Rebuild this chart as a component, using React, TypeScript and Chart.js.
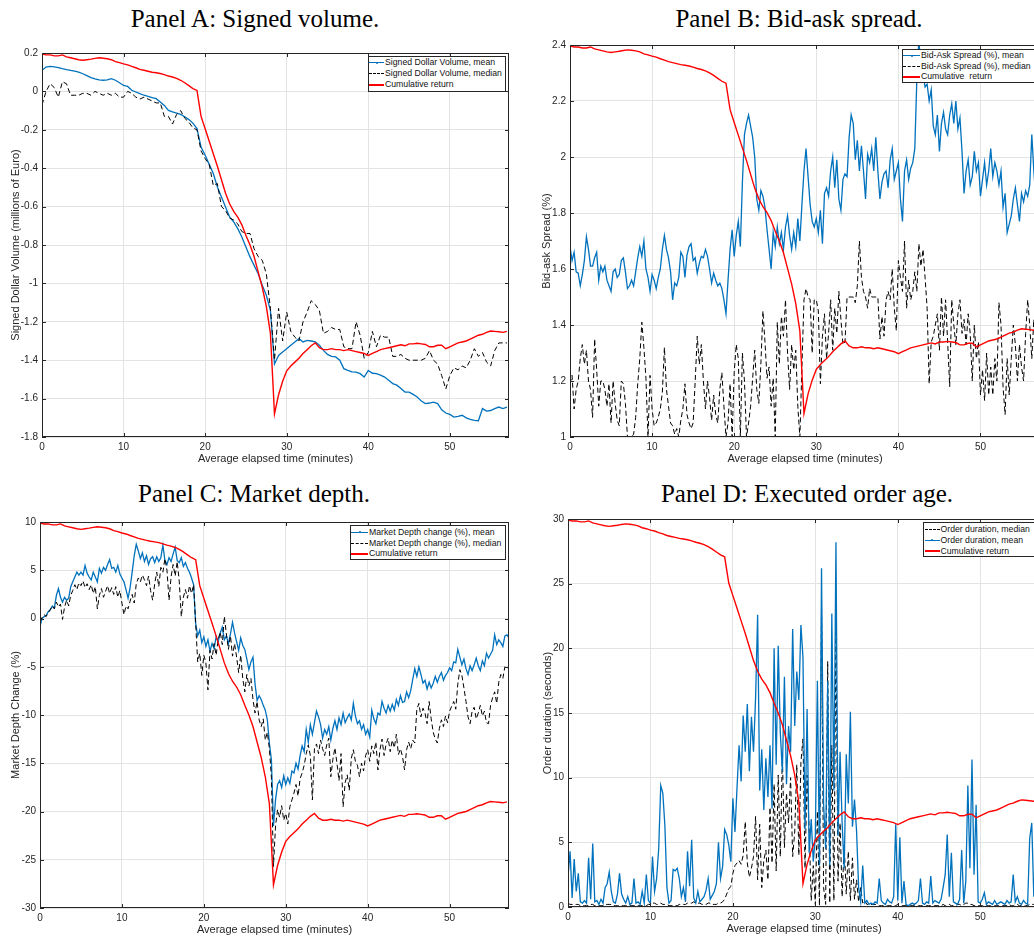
import React, { useEffect, useRef } from "react";
import { Chart, registerables } from "chart.js";

Chart.register(...registerables);

const FONT = '"Liberation Sans", Arial, Helvetica, sans-serif';
const BLUE = "#0072BD";
const RED = "#FF0000";
const BLACK = "#000000";
const AXIS = "#262626";
const GRID = "#e3e3e3";

const COARSE_STEP = 0.5;
const FINE_STEP = 0.25;
const X_MAX = 57.25;
const X_TICK_STEP = 10;
const X_LABEL = "Average elapsed time (minutes)";

// Cumulative return (shared shape, expressed on Panel A's scale -1.8..0.2), 0.5-min steps
const cumulativeReturn = [
  0.195, 0.19, 0.19, 0.185, 0.185, 0.19, 0.18, 0.175, 0.17, 0.165,
  0.162, 0.165, 0.168, 0.172, 0.175, 0.173, 0.17, 0.165, 0.155, 0.15,
  0.143, 0.138, 0.13, 0.123, 0.115, 0.11, 0.105, 0.1, 0.097, 0.093,
  0.087, 0.08, 0.075, 0.068, 0.058, 0.045, 0.03, 0.015, 0.005, -0.13,
  -0.195, -0.26, -0.325, -0.39, -0.46, -0.53, -0.585, -0.625, -0.655, -0.695,
  -0.75, -0.8, -0.86, -0.94, -1.02, -1.12, -1.26, -1.68, -1.58, -1.51,
  -1.455, -1.43, -1.41, -1.39, -1.365, -1.345, -1.325, -1.31, -1.335, -1.345,
  -1.345, -1.34, -1.345, -1.345, -1.35, -1.345, -1.35, -1.355, -1.36, -1.365,
  -1.375, -1.365, -1.355, -1.345, -1.34, -1.335, -1.33, -1.325, -1.32, -1.325,
  -1.315, -1.315, -1.312, -1.315, -1.318, -1.33, -1.33, -1.322, -1.322, -1.34,
  -1.33, -1.32, -1.31, -1.305, -1.3, -1.29, -1.28, -1.27, -1.265, -1.255,
  -1.248, -1.25, -1.252, -1.255, -1.25,
];

// Panel A, 0.5-min steps
const signedVolumeMean = [
  0.11, 0.127, 0.13, 0.128, 0.124, 0.118, 0.113, 0.11, 0.106, 0.1,
  0.092, 0.082, 0.072, 0.065, 0.06, 0.058, 0.06, 0.066, 0.058, 0.045,
  0.031, 0.026, 0.006, -0.003, -0.012, -0.02, -0.026, -0.032, -0.038, -0.055,
  -0.073, -0.099, -0.107, -0.113, -0.12, -0.132, -0.147, -0.165, -0.194, -0.29,
  -0.333, -0.38, -0.428, -0.498, -0.55, -0.602, -0.654, -0.68, -0.715, -0.758,
  -0.81, -0.862, -0.906, -0.95, -1.01, -1.062, -1.14, -1.42, -1.375, -1.357,
  -1.34, -1.322, -1.305, -1.288, -1.305, -1.297, -1.3, -1.305, -1.322, -1.349,
  -1.37, -1.38, -1.383, -1.4, -1.444, -1.453, -1.461, -1.462, -1.47, -1.488,
  -1.453, -1.468, -1.47, -1.478, -1.488, -1.505, -1.522, -1.53, -1.548, -1.566,
  -1.566, -1.578, -1.592, -1.613, -1.626, -1.623, -1.618, -1.626, -1.658, -1.675,
  -1.682, -1.696, -1.692, -1.687, -1.7, -1.708, -1.713, -1.715, -1.652, -1.665,
  -1.662, -1.652, -1.644, -1.652, -1.645,
];
const signedVolumeMedian = [
  -0.07, 0.0, 0.04, 0.02, -0.03, 0.05, 0.04, -0.02, -0.02, -0.02,
  -0.01, -0.01, -0.02, 0.0, -0.01, -0.02, -0.01, -0.02, -0.01, -0.03,
  -0.03, 0.0, -0.01, -0.03, -0.04, -0.03, -0.04, -0.05, -0.06, -0.06,
  -0.13, -0.13, -0.17, -0.12, -0.1, -0.14, -0.16, -0.19, -0.2, -0.31,
  -0.35, -0.38, -0.49, -0.48, -0.6, -0.62, -0.66, -0.67, -0.69, -0.73,
  -0.74, -0.74, -0.82, -0.86, -0.88, -0.95, -1.13, -1.4, -1.13, -1.3,
  -1.15, -1.25, -1.28, -1.3, -1.2, -1.15, -1.09, -1.11, -1.14, -1.26,
  -1.25, -1.23, -1.24, -1.24, -1.33, -1.34, -1.34, -1.2, -1.27, -1.39,
  -1.36, -1.25, -1.33, -1.27, -1.28, -1.28, -1.38, -1.38, -1.37, -1.39,
  -1.4, -1.4, -1.4, -1.4, -1.39, -1.35, -1.4, -1.42, -1.48, -1.55,
  -1.48, -1.44, -1.45, -1.43, -1.44, -1.4, -1.34, -1.38, -1.36, -1.41,
  -1.43, -1.35, -1.31, -1.31, -1.31,
];

// Panel B, 0.25-min steps
const spreadMean = [
  1.68, 1.63, 1.66, 1.59, 1.585, 1.54, 1.58, 1.63, 1.715, 1.67, 1.61, 1.61,
  1.64, 1.66, 1.56, 1.61, 1.59, 1.61, 1.56, 1.54, 1.52, 1.59, 1.6, 1.57,
  1.58, 1.63, 1.64, 1.59, 1.53, 1.54, 1.56, 1.54, 1.59, 1.64, 1.68, 1.645,
  1.7, 1.6, 1.57, 1.52, 1.58, 1.56, 1.53, 1.57, 1.6, 1.67, 1.72, 1.67,
  1.64, 1.59, 1.49, 1.55, 1.54, 1.57, 1.66, 1.645, 1.57, 1.65, 1.68, 1.69,
  1.63, 1.64, 1.585, 1.62, 1.645, 1.64, 1.67, 1.645, 1.6, 1.55, 1.585, 1.56,
  1.54, 1.55, 1.53, 1.49, 1.44, 1.56, 1.67, 1.74, 1.645, 1.72, 1.77, 1.68,
  1.91, 2.08, 2.12, 2.15, 2.11, 2.07, 2.0, 1.85, 1.81, 1.88, 1.86, 1.82,
  1.74, 1.67, 1.6, 1.73, 1.68, 1.75, 1.69, 1.73, 1.67, 1.75, 1.79, 1.72,
  1.67, 1.73, 1.68, 1.78, 1.7, 1.83, 1.95, 2.03, 1.93, 1.83, 1.77, 1.75,
  1.78, 1.73, 1.81, 1.69, 1.87, 1.89, 1.86, 1.95, 2.0, 1.89, 1.99, 1.85,
  1.81, 1.92, 1.94, 1.93, 2.07, 2.15, 2.12, 1.99, 2.06, 1.95, 2.04, 1.95,
  1.85, 2.01, 1.98, 2.03, 1.95, 2.07, 1.95, 1.85, 1.91, 1.94, 1.95, 1.89,
  1.99, 2.03, 1.92, 1.95, 1.98, 1.85, 1.77, 1.95, 1.99, 1.92, 1.96, 1.98,
  2.03, 2.28, 2.42, 2.3, 2.3, 2.25, 2.26, 2.2, 2.24, 2.11, 2.08, 2.15,
  2.02, 2.12, 2.16, 2.1, 2.08, 2.15, 2.19, 2.12, 2.2, 2.1, 2.14, 2.02,
  1.87, 1.95, 1.99, 1.9, 1.93, 2.02, 1.95, 1.98, 1.86, 1.92, 1.98, 1.9,
  1.95, 2.03, 1.93, 1.98, 1.95, 1.9, 1.95, 1.82, 1.87, 1.73, 1.76, 1.79,
  1.85, 1.89, 1.83, 1.77, 1.87, 1.84, 1.88, 1.86, 1.9, 2.08, 1.95, 1.85,
  1.9, 1.82,
];
const spreadMedian = [
  1.19, 1.22, 1.1, 1.17, 1.2, 1.28, 1.33, 1.26, 1.31, 1.2, 1.17, 1.07,
  1.35, 1.24, 1.11, 1.2, 1.2, 1.17, 1.11, 1.19, 1.05, 1.2, 1.12, 1.06,
  1.04, 1.2, 1.19, 1.12, 1.0, 1.0, 1.0, 1.01, 1.07, 1.19, 1.28, 1.41,
  1.32, 1.21, 1.0, 1.22, 1.1, 1.04, 1.05, 1.07, 1.1, 1.16, 1.32, 1.17,
  1.11, 1.05, 1.04, 1.01, 1.03, 1.0, 1.06, 1.1, 1.19, 1.08, 1.05, 1.03,
  1.05, 1.2, 1.36, 1.26, 1.33, 1.2, 1.1, 1.2, 1.14, 1.06, 1.15, 1.08,
  1.05, 1.17, 1.23, 1.11, 1.0, 1.05, 1.19, 1.0, 1.23, 1.33, 1.28, 1.0,
  1.3, 1.2, 1.0, 1.05, 1.11, 1.21, 1.31, 1.17, 1.12, 1.26, 1.45, 1.34,
  1.21, 1.25, 1.11, 1.21, 1.0, 1.41, 1.26, 1.43, 1.36, 1.49, 1.3, 1.17,
  1.33, 1.24, 1.31, 1.11, 1.0, 1.25, 1.49, 1.53, 1.5, 1.49, 1.3, 1.49,
  1.49, 1.45, 1.19, 1.36, 1.44, 1.28, 1.37, 1.49, 1.31, 1.46, 1.37, 1.52,
  1.42, 1.33, 1.34, 1.5, 1.5, 1.5, 1.5, 1.48, 1.54, 1.7, 1.57, 1.52,
  1.5, 1.46, 1.53, 1.5, 1.5, 1.5, 1.5, 1.35, 1.43, 1.36, 1.49, 1.52,
  1.49, 1.6, 1.46, 1.38, 1.63, 1.57, 1.52, 1.7, 1.46, 1.56, 1.49, 1.52,
  1.59, 1.52, 1.69, 1.61, 1.67, 1.57, 1.46, 1.19, 1.34, 1.36, 1.4, 1.44,
  1.31, 1.5, 1.36, 1.49, 1.34, 1.18, 1.49, 1.4, 1.33, 1.44, 1.49, 1.37,
  1.42, 1.33, 1.44, 1.37, 1.2, 1.4, 1.28, 1.34, 1.15, 1.24, 1.13, 1.3,
  1.15, 1.25, 1.15, 1.28, 1.2, 1.48, 1.4, 1.18, 1.08, 1.28, 1.15, 1.28,
  1.4, 1.33, 1.2, 1.33, 1.25, 1.2, 1.37, 1.49, 1.4, 1.28, 1.42, 1.3,
  1.35, 1.3,
];

// Panel C, 0.25-min steps
const depthMean = [
  -0.8, 0.0, 0.2, 0.3, 0.7, 0.9, 1.3, 1.1, 2.4, 3.1, 2.2, 1.7,
  2.2, 1.9, 2.1, 3.3, 3.8, 4.3, 4.8, 4.5, 4.8, 4.5, 5.5, 4.7,
  4.3, 4.0, 4.8, 4.3, 3.8, 5.2, 4.7, 5.3, 5.0, 5.6, 6.1, 5.2,
  5.3, 4.8, 5.5, 4.6, 4.2, 3.8, 3.0, 2.1, 3.2, 4.8, 6.5, 7.7,
  7.0, 6.2, 6.8, 5.9, 6.5, 5.6, 6.2, 6.4, 5.8, 6.4, 5.9, 6.3,
  7.6, 6.0, 5.6, 6.3, 5.9, 6.7, 7.4, 6.0, 5.8, 6.3, 5.4, 5.8,
  5.2, 4.8, 4.2, 3.5, -0.5, -1.8, -1.2, -2.5, -1.9, -2.9, -2.2, -3.4,
  -2.6, -3.1, -1.9, -2.4, -1.5, -0.9, -2.2, -1.8, -2.6, -1.6, -0.4, -1.5,
  -2.4, -3.3, -2.0, -2.8, -3.2, -4.2, -5.3, -4.5, -4.0, -6.8, -8.5, -8.0,
  -8.4, -9.0, -9.5, -10.5, -12.9, -14.7, -21.5, -18.8, -17.2, -16.8, -17.5, -16.3,
  -17.2, -16.5, -17.1, -15.8, -16.0, -15.0, -15.6, -14.2, -13.2, -13.8, -11.5, -12.8,
  -11.0, -12.0, -10.8, -9.6, -10.2, -11.0, -12.4, -11.5, -12.0, -11.2, -12.6, -11.4,
  -10.6, -11.5, -10.3, -11.0, -9.8, -10.8, -10.3, -9.9, -10.5, -8.8, -10.1, -10.9,
  -10.6, -11.5, -11.0, -12.0, -11.5, -12.3, -9.5, -10.4, -10.9, -9.8, -10.0, -8.6,
  -9.3, -9.8, -9.0, -9.6, -8.9, -9.5, -8.4, -9.0, -8.0, -8.7, -8.6, -7.6,
  -8.2, -7.5, -6.3, -5.2, -6.0, -5.0, -5.8, -6.7, -6.4, -7.3, -6.6, -7.2,
  -6.7, -6.0, -6.6, -6.0, -5.6, -6.4, -5.9, -5.6, -5.1, -5.4, -4.5, -4.6,
  -3.2, -4.0, -4.8, -4.2, -5.2, -5.8, -4.9, -5.4, -4.8, -4.1, -4.9, -5.4,
  -4.4, -4.9, -3.6, -4.1, -3.7, -3.3, -1.7, -2.7, -2.2, -2.5, -2.9, -1.8,
  -1.7, -2.0,
];
const depthMedian = [
  -0.3, 0.1, 0.4, 0.2, 0.6, 0.9, 1.3, 1.0, 1.7, 1.2, 1.5, -0.1,
  1.2, 1.9, 1.3, 2.4, 2.9, 3.5, 3.0, 3.7, 3.4, 3.9, 3.2, 3.6,
  3.0, 3.5, 2.6, 3.3, 1.0, 2.4, 3.1, 2.2, 2.8, 3.4, 2.6, 3.2,
  2.5, 3.3, 2.2, 2.9, 1.6, 0.4, 1.3, 1.0, 1.8, 2.5, 1.6, 3.6,
  4.2, 3.8, 4.5, 4.0, 3.4, 4.4, 2.9, 1.9, 3.6, 4.8, 3.3, 5.3,
  4.8, 6.2, 5.0, 1.9, 4.3, 5.6, 4.4, 5.9, 3.8, 0.2, 2.2, 3.0,
  2.1, 3.4, 2.6, 3.5, -0.5, -4.5, -3.6, -5.9, -3.8, -4.6, -7.4, -3.3,
  -4.2, -2.6, -3.8, -2.2, -1.4, -2.7, 0.2, -1.6, -3.2, -1.8, -3.9, -2.6,
  -4.0, -5.6, -3.8, -6.2, -7.6, -5.8, -7.0, -6.2, -8.4, -9.8, -8.6, -10.5,
  -11.2, -10.4, -12.6, -11.8, -13.5, -16.5, -25.7, -21.5, -19.8, -20.6, -19.4, -20.9,
  -20.2, -21.3, -19.5, -18.8, -18.1, -17.2, -18.4, -16.6, -16.0, -15.2, -14.0, -13.1,
  -14.2, -18.8, -13.5, -13.0, -14.0, -12.6, -13.5, -14.2, -13.1, -12.4, -16.4, -14.6,
  -13.4, -15.0, -16.8, -14.0, -19.5, -17.0, -16.2, -17.8, -14.5, -13.6, -14.8, -15.2,
  -16.4, -15.0, -15.8, -14.2, -13.6, -14.8, -13.2, -14.0, -12.8, -15.7, -13.6, -12.5,
  -14.2, -13.0, -12.4, -13.8, -12.6, -13.4, -12.0, -14.1, -13.5, -14.3, -15.7, -13.6,
  -12.8, -13.5, -12.6, -12.9, -9.4, -8.8, -10.2, -9.3, -9.8, -10.9, -8.6, -10.4,
  -11.8, -12.5, -12.9, -11.4, -10.5, -11.2, -10.1, -10.8, -9.6, -9.1, -8.6, -9.4,
  -6.8, -5.3, -5.9, -7.2, -8.6, -10.2, -10.9, -9.6, -9.2, -10.4, -9.8, -9.0,
  -10.1, -9.6, -10.8, -10.9, -9.0, -8.2, -7.6, -8.8, -6.6, -5.8, -6.2, -5.0,
  -5.2, -5.0,
];

// Panel D, 0.25-min steps
const durationMedian = [
  0.3, 0.2, 0.2, 0.2, 0.2, 0.2, 0.1, 0.1, 0.1, 0.1, 0.1, 0.2,
  0.2, 0.1, 0.1, 0.1, 0.1, 0.1, 0.2, 0.2, 0.2, 0.2, 0.1, 0.1,
  0.1, 0.1, 0.1, 0.1, 0.1, 0.1, 0.1, 0.1, 0.1, 0.1, 0.1, 0.1,
  0.1, 0.1, 0.1, 0.2, 0.2, 0.3, 0.3, 0.2, 0.2, 0.3, 0.2, 0.2,
  0.2, 0.1, 0.1, 0.1, 0.1, 0.1, 0.2, 0.2, 0.2, 0.2, 0.3, 0.3,
  0.3, 0.4, 0.3, 0.3, 0.3, 0.2, 0.2, 0.2, 0.3, 0.3, 0.2, 0.2,
  0.2, 0.3, 0.3, 0.4, 0.6, 1.0, 1.4, 1.6, 2.6, 3.2, 3.4, 3.6,
  3.3, 4.0, 6.6, 3.4, 2.3, 3.0, 3.9, 7.0, 2.1, 6.4, 1.5, 3.6,
  4.4, 2.1, 7.7, 3.4, 9.5, 2.8, 10.2, 3.9, 11.8, 4.6, 8.8, 6.5,
  10.0, 3.9, 5.8, 11.0, 4.0, 11.2, 13.0, 3.0, 10.2, 6.0, 0.5, 3.2,
  0.2, 7.4, 0.1, 23.5, 1.5, 0.2, 19.0, 0.3, 12.5, 0.5, 21.5, 2.0,
  6.5, 0.8, 4.8, 1.0, 4.3, 0.5, 3.8, 0.6, 2.1, 0.4, 1.5, 0.3,
  0.5, 0.2, 0.2, 0.2, 0.2, 0.2, 0.2, 0.1, 0.1, 0.1, 0.1, 0.1,
  0.1, 0.1, 0.1, 0.1, 0.2, 0.1, 0.1, 0.1, 0.1, 0.1, 0.1, 0.1,
  0.1, 0.1, 0.1, 0.1, 0.1, 0.1, 0.1, 0.1, 0.1, 0.1, 0.1, 0.1,
  0.1, 0.1, 0.2, 0.1, 0.1, 0.2, 0.1, 0.1, 0.1, 0.2, 0.2, 0.1,
  0.2, 0.3, 0.3, 0.2, 0.2, 0.1, 0.1, 0.1, 0.1, 0.1, 0.1, 0.1,
  0.1, 0.1, 0.1, 0.1, 0.1, 0.1, 0.1, 0.1, 0.1, 0.1, 0.2, 0.1,
  0.1, 0.1, 0.2, 0.1, 0.1, 0.1, 0.1, 0.1, 0.2, 0.2, 0.2, 0.2,
  0.2, 0.2,
];
const durationMean = [
  2.3, 4.3, 0.7, 3.7, 1.2, 2.6, 0.4, 0.3, 0.5, 0.3, 3.8, 0.6,
  4.9, 0.4, 0.5, 0.2, 0.6, 0.3, 1.5, 1.8, 2.7, 1.2, 0.4, 0.3,
  1.0, 2.6, 1.0, 0.6, 0.3, 0.8, 0.2, 0.3, 2.2, 0.3, 0.4, 0.2,
  1.2, 0.3, 2.5, 0.5, 0.3, 3.9, 1.2, 2.2, 4.5, 9.4, 8.8, 6.3,
  1.5, 0.3, 0.5, 2.9, 2.8, 3.0, 2.2, 0.8, 1.5, 0.4, 4.3, 1.6,
  5.2, 0.7, 0.3, 1.2, 0.4, 0.6, 0.8, 1.3, 2.2, 0.6, 0.9, 1.2,
  1.8, 5.0, 2.2, 3.1, 6.0, 5.6, 4.8, 3.5, 8.4, 5.8, 9.2, 12.5,
  9.7, 14.8, 12.0, 15.7, 10.5, 14.7, 12.0, 16.1, 22.6, 9.0, 12.2, 7.5,
  11.5, 8.5, 12.5, 7.6, 20.0, 11.0, 20.2, 13.5, 10.5, 17.8, 9.5, 14.0,
  12.0, 21.5, 14.0, 18.2, 16.0, 21.8, 19.3, 6.0, 15.3, 4.2, 6.8, 3.5,
  5.5, 17.5, 3.2, 26.2, 8.0, 4.5, 17.5, 3.2, 22.7, 9.0, 28.2, 5.5,
  12.0, 6.5, 3.0, 11.8, 8.0, 15.1, 6.2, 8.3, 5.9, 1.5, 0.4, 3.2,
  0.3, 0.5, 0.2, 0.3, 0.2, 0.4, 0.3, 2.2, 0.5, 0.3, 0.2, 0.6,
  0.4, 0.3, 0.8, 6.4, 0.5, 5.4, 0.3, 2.0, 0.2, 0.1, 0.2, 0.3,
  0.2, 0.3, 0.5, 2.2, 0.3, 0.2, 0.4, 0.3, 2.4, 0.3, 0.5, 0.4,
  0.3, 0.6, 1.5, 2.5, 5.6, 0.8, 4.2, 0.4, 0.3, 0.2, 0.6, 4.4,
  0.3, 2.0, 9.4, 3.0, 11.4, 2.5, 7.9, 0.4, 0.3, 0.6, 1.1, 0.2,
  0.4, 0.3, 0.2, 0.5, 0.2, 0.3, 0.4, 0.3, 0.2, 0.5, 0.3, 0.4,
  2.5, 0.4, 0.8, 0.3, 0.2, 0.5, 0.3, 0.2, 5.3, 6.5, 0.8, 4.0,
  2.0, 1.5,
];

type Kind = "mean" | "median" | "ret";
type Series = { label: string; data: number[]; step: number; kind: Kind; order: number };
type PanelSpec = {
  key: string;
  title: string;
  titleCX: number;
  titleTop: number;
  plot: { l: number; t: number; r: number; b: number };
  yTitleX: number;
  yMin: number;
  yMax: number;
  yStep: number;
  yTitle: string;
  series: Series[];
  legend: { left: number; top: number; width: number; height: number; sampleLeft: number; sampleW: number; rows: number[] };
};

const STYLE: Record<Kind, { color: string; width: number; dash: number[] }> = {
  mean: { color: BLUE, width: 1.3, dash: [] },
  median: { color: BLACK, width: 1, dash: [5, 3] },
  ret: { color: RED, width: 1.4, dash: [] },
};

const panels: PanelSpec[] = [
  {
    key: "A",
    title: "Panel A: Signed volume.",
    titleCX: 255,
    titleTop: 3.5,
    plot: { l: 42, t: 53, r: 509, b: 437 },
    yTitleX: 15.5,
    yMin: -1.8,
    yMax: 0.2,
    yStep: 0.2,
    yTitle: "Signed Dollar Volume (millions of Euro)",
    series: [
      { label: "Signed Dollar Volume, mean", data: signedVolumeMean, step: COARSE_STEP, kind: "mean", order: 2 },
      { label: "Signed Dollar Volume, median", data: signedVolumeMedian, step: COARSE_STEP, kind: "median", order: 1 },
      { label: "Cumulative return", data: cumulativeReturn, step: COARSE_STEP, kind: "ret", order: 0 },
    ],
    legend: { left: 368, top: 56, width: 138, height: 36, sampleLeft: 1, sampleW: 15, rows: [6.7, 17.7, 28.7] },
  },
  {
    key: "B",
    title: "Panel B: Bid-ask spread.",
    titleCX: 799,
    titleTop: 3.5,
    plot: { l: 570, t: 45, r: 1040, b: 437 },
    yTitleX: 546.7,
    yMin: 1,
    yMax: 2.4,
    yStep: 0.2,
    yTitle: "Bid-ask Spread (%)",
    series: [
      { label: "Bid-Ask Spread (%), mean", data: spreadMean, step: FINE_STEP, kind: "mean", order: 2 },
      { label: "Bid-Ask Spread (%), median", data: spreadMedian, step: FINE_STEP, kind: "median", order: 1 },
      { label: "Cumulative  return", data: cumulativeReturn, step: COARSE_STEP, kind: "ret", order: 0 },
    ],
    legend: { left: 902, top: 49, width: 140, height: 34, sampleLeft: 1, sampleW: 17, rows: [6.5, 17.5, 27.5] },
  },
  {
    key: "C",
    title: "Panel C: Market depth.",
    titleCX: 254,
    titleTop: 478.5,
    plot: { l: 40, t: 522, r: 509, b: 908 },
    yTitleX: 15.8,
    yMin: -30,
    yMax: 10,
    yStep: 5,
    yTitle: "Market Depth Change (%)",
    series: [
      { label: "Market Depth change (%), mean", data: depthMean, step: FINE_STEP, kind: "mean", order: 2 },
      { label: "Market Depth change (%), median", data: depthMedian, step: FINE_STEP, kind: "median", order: 1 },
      { label: "Cumulative return", data: cumulativeReturn, step: COARSE_STEP, kind: "ret", order: 0 },
    ],
    legend: { left: 350, top: 525, width: 156, height: 35, sampleLeft: 1, sampleW: 17, rows: [7, 18, 28.7] },
  },
  {
    key: "D",
    title: "Panel D: Executed order age.",
    titleCX: 807,
    titleTop: 478.5,
    plot: { l: 568, t: 519, r: 1040, b: 907 },
    yTitleX: 547.7,
    yMin: 0,
    yMax: 30,
    yStep: 5,
    yTitle: "Order duration (seconds)",
    series: [
      { label: "Order duration, median", data: durationMedian, step: FINE_STEP, kind: "median", order: 2 },
      { label: "Order duration, mean", data: durationMean, step: FINE_STEP, kind: "mean", order: 1 },
      { label: "Cumulative return", data: cumulativeReturn, step: COARSE_STEP, kind: "ret", order: 0 },
    ],
    legend: { left: 923, top: 522, width: 125, height: 35, sampleLeft: 1.5, sampleW: 15, rows: [7, 18, 29] },
  },
];

const Y_AXIS_W = 42;
const PAD_TOP = 13;
const PAD_RIGHT = 6;
const X_AXIS_H = 30;

const boxPlugin = {
  id: "matlabBox",
  afterDatasetsDraw(chart: any) {
    const { ctx, chartArea, scales } = chart;
    const { left, top, right, bottom } = chartArea;
    ctx.save();
    ctx.strokeStyle = AXIS;
    ctx.lineWidth = 1;
    ctx.strokeRect(Math.round(left) + 0.5, Math.round(top) + 0.5, Math.round(right - left) - 1, Math.round(bottom - top) - 1);
    const tl = 4;
    ctx.beginPath();
    scales.x.ticks.forEach((t: any) => {
      const px = Math.round(scales.x.getPixelForValue(t.value)) + 0.5;
      ctx.moveTo(px, bottom);
      ctx.lineTo(px, bottom - tl);
      ctx.moveTo(px, top);
      ctx.lineTo(px, top + tl);
    });
    scales.y.ticks.forEach((t: any) => {
      const py = Math.round(scales.y.getPixelForValue(t.value)) + 0.5;
      ctx.moveTo(left, py);
      ctx.lineTo(left + tl, py);
      ctx.moveTo(right, py);
      ctx.lineTo(right - tl, py);
    });
    ctx.stroke();
    ctx.restore();
  },
};

function PanelChart({ spec }: { spec: PanelSpec }) {
  const ref = useRef<HTMLCanvasElement>(null);
  const cLeft = spec.plot.l - Y_AXIS_W;
  const cTop = spec.plot.t - PAD_TOP;
  const width = spec.plot.r + PAD_RIGHT - cLeft;
  const height = spec.plot.b + X_AXIS_H - cTop;

  useEffect(() => {
    if (!ref.current) return;
    const datasets = spec.series.map((s) => {
      const st = STYLE[s.kind];
      return {
        label: s.label,
        data: s.data.map((v, i) => ({ x: i * s.step, y: v })),
        borderColor: st.color,
        backgroundColor: st.color,
        borderWidth: st.width,
        borderDash: st.dash,
        pointRadius: 0,
        fill: false,
        tension: 0,
        order: s.order,
        yAxisID: s.kind === "ret" ? "yR" : "y",
      };
    });
    const yTitlePad = spec.yTitleX - cLeft - 6.6;
    const chart = new Chart(ref.current, {
      type: "line",
      data: { datasets } as any,
      options: {
        responsive: false,
        animation: false,
        devicePixelRatio: 1,
        layout: { padding: { top: PAD_TOP, right: PAD_RIGHT, left: 0, bottom: 0 } },
        plugins: { legend: { display: false }, tooltip: { enabled: false } },
        scales: {
          x: {
            type: "linear",
            min: 0,
            max: X_MAX,
            afterFit: (s: any) => {
              s.height = X_AXIS_H;
            },
            ticks: {
              stepSize: X_TICK_STEP,
              includeBounds: false,
              padding: 4,
              color: AXIS,
              font: { family: FONT, size: 10 },
              maxRotation: 0,
            },
            grid: { color: GRID, drawTicks: false, lineWidth: 1 },
            border: { display: false },
            title: {
              display: true,
              text: X_LABEL,
              color: AXIS,
              font: { family: FONT, size: 11 },
              padding: { top: 0, bottom: 1.4 },
            },
          },
          y: {
            type: "linear",
            min: spec.yMin,
            max: spec.yMax,
            afterFit: (s: any) => {
              s.width = Y_AXIS_W;
            },
            ticks: {
              stepSize: spec.yStep,
              padding: 4,
              color: AXIS,
              font: { family: FONT, size: 10 },
              callback: (v: any) => String(Math.round(Number(v) * 10) / 10),
            },
            grid: { color: GRID, drawTicks: false, lineWidth: 1 },
            border: { display: false },
            title: {
              display: true,
              text: spec.yTitle,
              color: AXIS,
              font: { family: FONT, size: 11 },
              padding: { top: yTitlePad, bottom: 0 },
            },
          },
          yR: { type: "linear", display: false, min: -1.8, max: 0.2 },
        },
      } as any,
      plugins: [boxPlugin],
    });
    return () => chart.destroy();
  }, []);

  return (
    <canvas
      ref={ref}
      width={width}
      height={height}
      style={{ position: "absolute", left: cLeft, top: cTop, width, height, display: "block" }}
    />
  );
}

function Sample({ kind, width }: { kind: Kind; width: number }) {
  if (kind === "mean") {
    return (
      <div style={{ position: "relative", width, height: 1, background: BLUE }}>
        <div style={{ position: "absolute", left: width / 2 - 1, top: -0.5, width: 2, height: 2, borderRadius: 1, background: BLUE }} />
      </div>
    );
  }
  if (kind === "median") {
    return <div style={{ width, height: 0, borderTop: `1px dashed ${BLACK}` }} />;
  }
  return <div style={{ width, height: 2, background: RED }} />;
}

function Legend({ spec }: { spec: PanelSpec }) {
  const lg = spec.legend;
  return (
    <div
      style={{
        position: "absolute",
        left: lg.left,
        top: lg.top,
        width: lg.width,
        height: lg.height,
        boxSizing: "border-box",
        border: `1px solid ${AXIS}`,
        background: "#fff",
        fontFamily: FONT,
        fontSize: 8.7,
        color: "#111",
      }}
    >
      {spec.series.map((s, i) => (
        <div
          key={s.label}
          style={{
            position: "absolute",
            left: lg.sampleLeft - 1,
            top: lg.rows[i] - 1 - 5.5,
            height: 11,
            display: "flex",
            alignItems: "center",
            whiteSpace: "pre",
          }}
        >
          <Sample kind={s.kind} width={lg.sampleW} />
          <span style={{ marginLeft: 1, lineHeight: "11px" }}>{s.label}</span>
        </div>
      ))}
    </div>
  );
}

function Panel({ spec }: { spec: PanelSpec }) {
  return (
    <>
      <div
        style={{
          position: "absolute",
          left: spec.titleCX - 250,
          top: spec.titleTop,
          width: 500,
          textAlign: "center",
          fontFamily: '"Liberation Serif", "Times New Roman", serif',
          fontSize: 25,
          lineHeight: "30px",
          color: "#000",
          whiteSpace: "nowrap",
        }}
      >
        {spec.title}
      </div>
      <PanelChart spec={spec} />
      <Legend spec={spec} />
    </>
  );
}

export default function App() {
  return (
    <div
      style={{
        position: "absolute",
        left: 0,
        top: 0,
        width: 1034,
        height: 938,
        overflow: "hidden",
        background: "#fff",
      }}
    >
      {panels.map((p) => (
        <Panel key={p.key} spec={p} />
      ))}
    </div>
  );
}
